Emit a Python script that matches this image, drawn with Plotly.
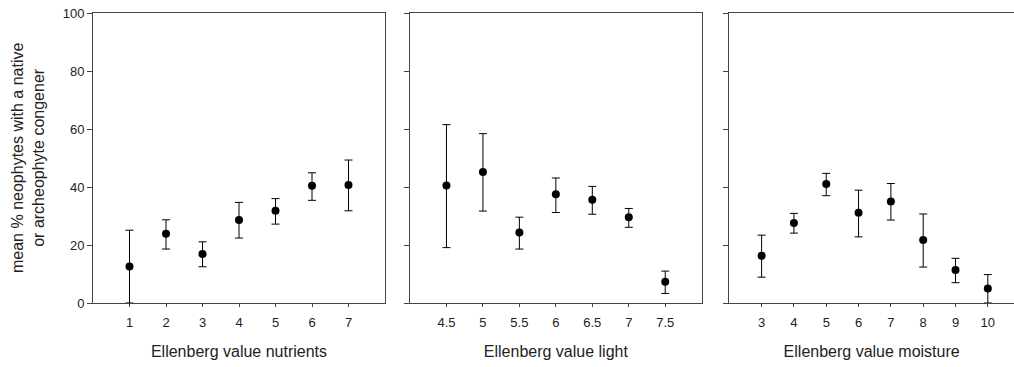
import plotly.graph_objects as go

# Panel 1: nutrients
nut_x = [1, 2, 3, 4, 5, 6, 7]
nut_mean = [12.6, 23.9, 16.9, 28.6, 31.8, 40.4, 40.7]
nut_upper = [25.1, 28.7, 21.1, 34.7, 36.0, 44.9, 49.3]
nut_lower = [0.0, 18.6, 12.5, 22.4, 27.2, 35.4, 31.8]

# Panel 2: light
light_x = [4.5, 5, 5.5, 6, 6.5, 7, 7.5]
light_mean = [40.5, 45.2, 24.3, 37.5, 35.6, 29.6, 7.3]
light_upper = [61.5, 58.4, 29.6, 43.1, 40.2, 32.6, 11.0]
light_lower = [19.1, 31.7, 18.6, 31.2, 30.6, 26.1, 3.3]

# Panel 3: moisture
moist_x = [3, 4, 5, 6, 7, 8, 9, 10]
moist_mean = [16.3, 27.6, 41.0, 31.1, 35.0, 21.7, 11.4, 5.0]
moist_upper = [23.4, 30.9, 44.7, 38.9, 41.2, 30.7, 15.4, 9.8]
moist_lower = [8.9, 24.1, 37.0, 22.8, 28.6, 12.4, 7.0, 0.0]

y_ticks = [0, 20, 40, 60, 80, 100]
x_titles = ["Ellenberg value nutrients", "Ellenberg value light", "Ellenberg value moisture"]
y_title = "mean % neophytes with a native<br>or archeophyte congener"

FONT = "Liberation Sans, Arial, sans-serif"
AXC = "#444444"
TXT = "#222222"

fig = go.Figure()
panels = [
    (nut_x, nut_mean, nut_upper, nut_lower),
    (light_x, light_mean, light_upper, light_lower),
    (moist_x, moist_mean, moist_upper, moist_lower),
]
for i, (xs, m, up, lo) in enumerate(panels):
    sfx = "" if i == 0 else str(i + 1)
    fig.add_trace(go.Scatter(
        x=xs, y=m, mode="markers",
        marker=dict(color="black", size=8),
        error_y=dict(type="data", symmetric=False,
                     array=[u - v for u, v in zip(up, m)],
                     arrayminus=[v - l for v, l in zip(m, lo)],
                     color="black", thickness=1, width=4),
        xaxis="x" + sfx, yaxis="y" + sfx, showlegend=False,
        cliponaxis=False,
    ))

W = 1014 - 93
domains = [
    [0, (385 - 93) / W],
    [(410 - 93) / W, (701.7 - 93) / W],
    [(729.3 - 93) / W, 1.0],
]
xranges = [[0, 8], [4, 8], [2, 10.81]]
xticks = [nut_x, light_x, moist_x]
xtext = [[str(v) for v in nut_x], [str(v) for v in light_x], [str(v) for v in moist_x]]

layout = dict(
    width=1014, height=367,
    margin=dict(l=93, r=0, t=13, b=64),
    plot_bgcolor="white", paper_bgcolor="white",
    font=dict(family=FONT, size=13, color=TXT),
)
for i in range(3):
    sfx = "" if i == 0 else str(i + 1)
    layout["xaxis" + sfx] = dict(
        domain=domains[i], range=xranges[i], anchor="y" + sfx,
        tickmode="array", tickvals=xticks[i], ticktext=xtext[i],
        ticks="outside", ticklen=3, tickcolor=AXC, tickwidth=1,
        ticklabelstandoff=4,
        showline=True, linecolor=AXC, linewidth=1, mirror=True,
        showgrid=False, zeroline=False,
        tickfont=dict(size=13, family=FONT, color=TXT),
        title=dict(text=x_titles[i], font=dict(size=16, family=FONT, color=TXT), standoff=17),
    )
    layout["yaxis" + sfx] = dict(
        domain=[0, 1], range=[0, 100], anchor="x" + sfx,
        tickmode="array", tickvals=y_ticks,
        ticks="outside", ticklen=5, tickcolor=AXC, tickwidth=1,
        showline=True, linecolor=AXC, linewidth=1, mirror=(i < 2),
        showgrid=False, zeroline=False, showticklabels=(i == 0),
        tickfont=dict(size=13, family=FONT, color=TXT),
    )
fig.update_layout(**layout)
fig.add_annotation(
    text=y_title, xref="paper", yref="paper", x=(28 - 93) / W, y=0.5,
    xanchor="center", yanchor="middle", textangle=-90, showarrow=False,
    font=dict(size=16, family=FONT, color=TXT),
)
fig.write_html("out.html", config={"displayModeBar": False},
               post_script="document.body.style.margin='0';")
